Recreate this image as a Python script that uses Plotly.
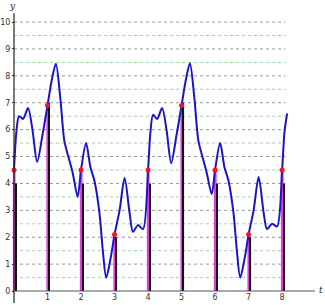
import plotly.graph_objects as go

# Continuous signal
curve_t = [0, 0.07, 0.15, 0.27, 0.42, 0.55, 0.69, 0.85, 1.0, 1.12, 1.25, 1.38, 1.5, 1.62, 1.75, 1.9, 2.0,
           2.15, 2.28, 2.4, 2.55, 2.65, 2.75, 2.88, 3.0, 3.15, 3.3, 3.45, 3.55, 3.7, 3.85, 4.0,
           4.07, 4.15, 4.27, 4.42, 4.55, 4.69, 4.85, 5.0, 5.12, 5.25, 5.38, 5.5, 5.62, 5.75, 5.9, 6.0,
           6.15, 6.28, 6.4, 6.55, 6.65, 6.75, 6.88, 7.0, 7.15, 7.3, 7.45, 7.55, 7.7, 7.85, 8.0, 8.07, 8.15]
curve_y = [4.5, 5.9, 6.5, 6.4, 6.8, 6.0, 4.8, 5.8, 6.9, 7.8, 8.45, 7.2, 5.6, 5.0, 4.4, 3.5, 4.5,
           5.5, 4.6, 4.1, 2.9, 1.5, 0.5, 1.2, 2.1, 3.0, 4.2, 2.9, 2.2, 2.45, 2.3, 4.5,
           5.9, 6.55, 6.4, 6.8, 6.0, 4.75, 5.8, 6.9, 7.8, 8.47, 7.2, 5.6, 5.0, 4.4, 3.6, 4.5,
           5.5, 4.6, 4.1, 2.9, 1.5, 0.5, 1.2, 2.1, 3.0, 4.24, 2.9, 2.3, 2.5, 2.4, 4.5, 5.9, 6.6]

# Samples at integer times
sample_t = [0, 1, 2, 3, 4, 5, 6, 7, 8]
sample_y = [4.5, 6.9, 4.5, 2.1, 4.5, 6.9, 4.5, 2.1, 4.5]
quant_y = [4, 7, 4, 2, 4, 7, 4, 2, 4]

y_ticks = list(range(0, 11))
x_ticks = list(range(1, 9))
major_grid = list(range(1, 11))
minor_grid = [k + 0.5 for k in range(0, 10)]

W, H = 325, 305
x_range = [-0.418, 9.28]
y_range = [-0.52, 10.82]

fig = go.Figure()

shapes = []
for g in minor_grid:
    shapes.append(dict(type="line", xref="x", yref="y", x0=0, x1=8.1, y0=g, y1=g,
                       line=dict(color="#9fd89f", width=1, dash="dot"), layer="below"))
for g in major_grid:
    shapes.append(dict(type="line", xref="x", yref="y", x0=0, x1=8.1, y0=g, y1=g,
                       line=dict(color="#999999", width=1, dash="3px,3px"), layer="below"))
shapes.append(dict(type="line", xref="x", yref="y", x0=0, x1=8.98, y0=0, y1=0,
                   line=dict(color="#555555", width=1)))
shapes.append(dict(type="line", xref="x", yref="y", x0=0, x1=0, y0=-0.45, y1=10.33,
                   line=dict(color="#222222", width=1.2)))

fig.add_trace(go.Scatter(x=curve_t, y=curve_y, mode="lines",
                         line=dict(color="#1a14c8", width=2, shape="spline", smoothing=0.8),
                         hoverinfo="skip"))
fig.add_trace(go.Bar(x=sample_t, y=sample_y, width=0.08, offset=-0.035,
                     marker=dict(color="#e23ce0", line=dict(width=0))))
fig.add_trace(go.Bar(x=sample_t, y=quant_y, width=0.045, offset=0.03,
                     marker=dict(color="#111111", line=dict(width=0))))
fig.add_trace(go.Scatter(x=sample_t, y=sample_y, mode="markers",
                         marker=dict(color="#ff1020", size=5), cliponaxis=False))

fig.update_layout(
    width=W, height=H, margin=dict(l=0, r=0, t=0, b=0),
    paper_bgcolor="white", plot_bgcolor="white",
    showlegend=False, barmode="overlay", shapes=shapes,
    font=dict(family="DejaVu Sans", size=8, color="#333333"),
    xaxis=dict(range=x_range, showgrid=False, zeroline=False, showline=False,
               tickvals=x_ticks, ticktext=[str(v) for v in x_ticks],
               anchor="free", position=14 / H, ticks="", ticklen=0),
    yaxis=dict(range=y_range, showgrid=False, zeroline=False, showline=False,
               tickvals=y_ticks, ticktext=[str(v) for v in y_ticks],
               anchor="free", position=14 / W, ticks="outside", ticklen=2,
               tickcolor="#333333", tickwidth=1),
    annotations=[
        dict(text="<i>y</i>", x=12 / W, y=1 - 6 / H, xref="paper", yref="paper",
             xanchor="center", yanchor="middle",
             showarrow=False, font=dict(size=9, family="DejaVu Serif", color="#222")),
        dict(text="<i>t</i>", x=321 / W, y=1 - 290 / H, xref="paper", yref="paper",
             xanchor="center", yanchor="middle",
             showarrow=False, font=dict(size=9, family="DejaVu Serif", color="#222")),
    ],
)

fig.write_html("out.html")
